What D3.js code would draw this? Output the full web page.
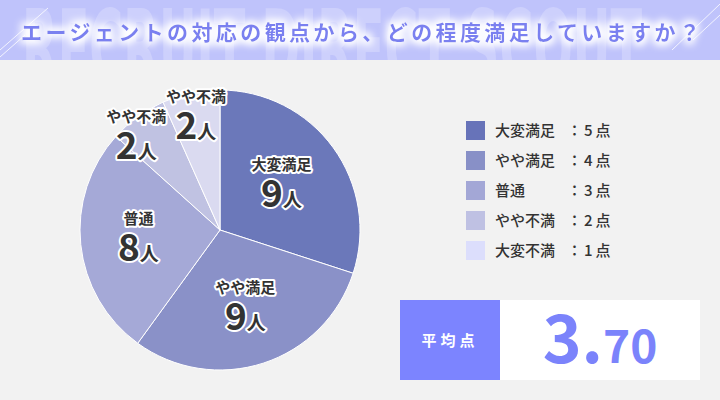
<!DOCTYPE html>
<html>
<head>
<meta charset="utf-8">
<script src="https://cdn.jsdelivr.net/npm/d3@7"></script>
<style>
  html, body { margin: 0; padding: 0; background: #f2f2f2; }
  svg { display: block; font-family: "Noto Sans CJK JP", "Noto Sans", sans-serif; }
</style>
</head>
<body>
<div id="chart"></div>
<script>
// data
const title = 'エージェントの対応の観点から、どの程度満足していますか？';
const sliceLabels = ['大変満足', 'やや満足', '普通', 'やや不満', 'やや不満'];
const counts = [9, 9, 8, 2, 2];
const legendLabels = ['大変満足', 'やや満足', '普通', 'やや不満', '大変不満'];
const scores = [5, 4, 3, 2, 1];
const sliceColors = ['#6b78ba', '#8a91c8', '#a5a9d7', '#c0c2e2', '#dadaf0'];
const legendColors = ['#6773b9', '#8890c7', '#a3a7d6', '#bfc1e3', '#dcdefc'];

const width = 720, height = 400;
const svg = d3.select('#chart').append('svg')
  .attr('width', width)
  .attr('height', height);

svg.append('rect').attr('width', width).attr('height', height).attr('fill', '#f2f2f2');

// header band
const defs = svg.append('defs');
defs.append('clipPath').attr('id', 'hclip')
  .append('rect').attr('width', width).attr('height', 60);
const glow = defs.append('filter').attr('id', 'glow')
  .attr('x', '-10%').attr('y', '-80%').attr('width', '120%').attr('height', '260%');
glow.append('feMorphology').attr('in', 'SourceAlpha').attr('operator', 'dilate').attr('radius', 2).attr('result', 'thick');
glow.append('feGaussianBlur').attr('in', 'thick').attr('stdDeviation', 4).attr('result', 'blur');
glow.append('feFlood').attr('flood-color', '#ffffff').attr('flood-opacity', 1);
glow.append('feComposite').attr('in2', 'blur').attr('operator', 'in').attr('result', 'halo');
const fm = glow.append('feMerge');
fm.append('feMergeNode').attr('in', 'halo');
fm.append('feMergeNode').attr('in', 'halo');
fm.append('feMergeNode').attr('in', 'SourceGraphic');

const header = svg.append('g').attr('clip-path', 'url(#hclip)');
header.append('rect').attr('width', width).attr('height', 60).attr('fill', '#bfc3fb');
header.append('text')
  .attr('x', 22).attr('y', 84)
  .attr('textLength', 620).attr('lengthAdjust', 'spacingAndGlyphs')
  .style('font-family', '"Liberation Sans Narrow", "DejaVu Sans Condensed", sans-serif')
  .style('font-weight', 'bold').style('font-size', '104px')
  .attr('fill', '#cdd0fc')
  .text('RECRUIT DIRECT SCOUT');

const lines = [[0, 50, 48, 8], [0, 57, 25, 35], [672, 50, 720, 4], [693, 40, 720, 15]];
header.selectAll('line.deco').data(lines).enter().append('line')
  .attr('x1', d => d[0]).attr('y1', d => d[1]).attr('x2', d => d[2]).attr('y2', d => d[3])
  .attr('stroke', '#ffffff').attr('stroke-opacity', 0.8).attr('stroke-width', 1);

header.append('text')
  .attr('x', 21).attr('y', 40)
  .attr('textLength', 679).attr('lengthAdjust', 'spacing')
  .style('font-size', '21px').style('font-weight', 'bold')
  .attr('fill', '#7a80f0')
  .attr('filter', 'url(#glow)')
  .text(title);

// pie
const cx = 220, cy = 230, radius = 140;
const total = d3.sum(counts);
const pie = d3.pie().sort(null).value(d => d);
const arcs = pie(counts);
const arc = d3.arc().innerRadius(0).outerRadius(radius);

const g = svg.append('g').attr('transform', `translate(${cx},${cy})`);
g.selectAll('path.slice').data(arcs).enter().append('path')
  .attr('d', arc)
  .attr('fill', (d, i) => sliceColors[i])
  .attr('stroke', '#ffffff')
  .attr('stroke-width', 1);

// label radius per slice (small slices sit further out)
const labelRadius = [76, 82, 82, 122, 116];
const labelNudge = [[0, 0], [0, 0], [0, 0], [-12, 6], [0, 0]];
const labels = g.selectAll('g.lbl').data(arcs).enter().append('g')
  .attr('transform', (d, i) => {
    const a = d3.arc().innerRadius(labelRadius[i]).outerRadius(labelRadius[i]);
    const c = a.centroid(d);
    return `translate(${c[0] + labelNudge[i][0]},${c[1] + labelNudge[i][1]})`;
  });

labels.append('text')
  .attr('y', -15)
  .attr('text-anchor', 'middle')
  .style('font-size', '15px').style('font-weight', 'bold')
  .attr('fill', '#333333')
  .attr('stroke', '#ffffff').attr('stroke-width', 4).attr('stroke-linejoin', 'round')
  .style('paint-order', 'stroke')
  .text((d, i) => sliceLabels[i]);

const num = labels.append('text')
  .attr('y', 22)
  .attr('text-anchor', 'middle')
  .style('font-weight', 'bold')
  .attr('fill', '#333333')
  .attr('stroke', '#ffffff').attr('stroke-width', 4).attr('stroke-linejoin', 'round')
  .style('paint-order', 'stroke');
num.append('tspan').style('font-size', '37px').text(d => d.data);
num.append('tspan').style('font-size', '19px').text('人');

// legend
const legend = svg.append('g').attr('transform', 'translate(466,130)');
const rowY = d3.scalePoint().domain(d3.range(legendLabels.length)).range([0, 120]);
const rows = legend.selectAll('g.row').data(legendLabels).enter().append('g')
  .attr('transform', (d, i) => `translate(0,${rowY(i)})`);
rows.append('rect')
  .attr('x', 0).attr('y', -9).attr('width', 19).attr('height', 19)
  .attr('fill', (d, i) => legendColors[i]);
rows.append('text')
  .attr('x', 29).attr('y', 6)
  .style('font-size', '15px').style('font-weight', 500)
  .attr('fill', '#333333')
  .text(d => d);
rows.append('text')
  .attr('x', 101).attr('y', 6)
  .style('font-size', '15px').style('font-weight', 500)
  .attr('fill', '#333333')
  .text('：');
const sc = rows.append('text')
  .attr('x', 118).attr('y', 6)
  .style('font-size', '15px').style('font-weight', 500)
  .attr('fill', '#333333');
sc.append('tspan').text((d, i) => scores[i]);
sc.append('tspan').attr('dx', 3).text('点');

// average box
const avg = d3.sum(counts.map((c, i) => c * scores[i])) / total;
const avgStr = avg.toFixed(2);
const box = svg.append('g').attr('transform', 'translate(400,300)');
box.append('rect').attr('width', 100).attr('height', 80).attr('fill', '#7c84ff');
box.append('rect').attr('x', 100).attr('width', 200).attr('height', 80).attr('fill', '#ffffff');
box.append('text')
  .attr('x', 50).attr('y', 46)
  .attr('text-anchor', 'middle')
  .style('font-size', '15px').style('font-weight', 'bold')
  .style('letter-spacing', '4px')
  .attr('fill', '#ffffff')
  .text('平均点');
const avgText = box.append('text')
  .attr('x', 200).attr('y', 63)
  .attr('text-anchor', 'middle')
  .style('font-weight', 'bold')
  .attr('fill', '#7b83fb');
avgText.append('tspan').style('font-size', '66px').text(avgStr.split('.')[0]);
avgText.append('tspan').style('font-size', '66px').text('.');
avgText.append('tspan').style('font-size', '46px').text(avgStr.split('.')[1]);
</script>
</body>
</html>
